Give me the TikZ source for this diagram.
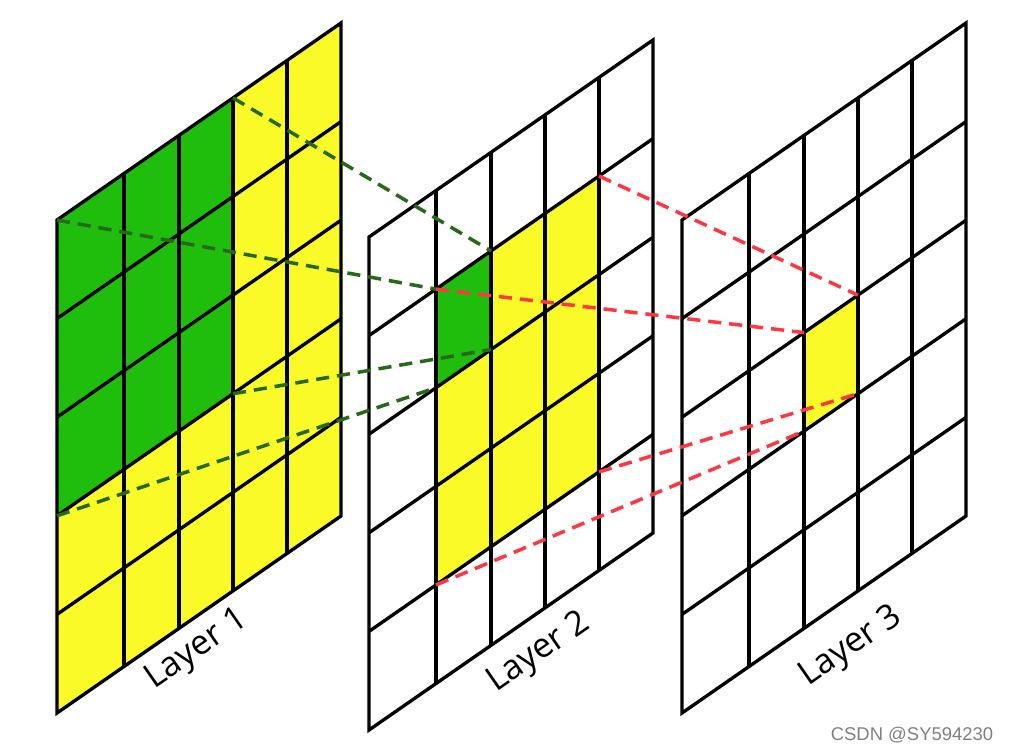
\documentclass[tikz,border=0pt]{standalone}
\usepackage{fontspec}
\setmainfont{Open Sans}
\newfontfamily\markfont{Liberation Sans}

\definecolor{cellgreen}{RGB}{32,190,12}
\definecolor{cellyellow}{RGB}{250,250,40}
\definecolor{linkgreen}{RGB}{40,105,25}
\definecolor{linkred}{RGB}{255,55,65}

\begin{document}
\begin{tikzpicture}[
  x=0.02cm, y=-0.02cm,
  gridline/.style = {line width=1.9pt, black},
  frame/.style = {line width=1.9pt, black, line join=miter},
  link/.style = {line width=2pt, dash pattern=on 7.5pt off 4.5pt},
  layerlabel/.style = {font=\fontsize{19.5}{22}\selectfont, rotate=34.75},
]
\useasboundingbox (0,0) rectangle (1011,751);

%% ── Layer 1: 5x5 input, 3x3 receptive field in green ───────────────────────
\begin{scope}[shift={(57,220)}, yslant=0.6937]
  \fill[cellyellow] (0,0) -- (284,0) -- (284,493) -- (0,493) -- cycle;
  \fill[cellgreen] (0,0) -- (176,0) -- (176,295.8) -- (0,295.8) -- cycle;
  \foreach \u in {67,122,176,230}
    \draw[gridline] (\u,0) -- (\u,493);
  \foreach \v in {98.6,197.2,295.8,394.4}
    \draw[gridline] (0,\v) -- (284,\v);
  \draw[frame] (0,0) -- (284,0) -- (284,493) -- (0,493) -- cycle;
  \coordinate (g1tl) at (0,0);
  \coordinate (g1tr) at (176,0);
  \coordinate (g1br) at (176,295.8);
  \coordinate (g1bl) at (0,295.8);
\end{scope}

%% ── Layer 2: 3x3 yellow block, top-left cell in green ──────────────────────
\begin{scope}[shift={(369,237)}, yslant=0.6937]
  \fill[cellyellow] (67,98.6) -- (230,98.6) -- (230,394.4) -- (67,394.4) -- cycle;
  \fill[cellgreen] (67,98.6) -- (122,98.6) -- (122,197.2) -- (67,197.2) -- cycle;
  \foreach \u in {67,122,176,230}
    \draw[gridline] (\u,0) -- (\u,493);
  \foreach \v in {98.6,197.2,295.8,394.4}
    \draw[gridline] (0,\v) -- (284,\v);
  \draw[frame] (0,0) -- (284,0) -- (284,493) -- (0,493) -- cycle;
  \coordinate (g2tl) at (67,98.6);
  \coordinate (g2tr) at (122,98.6);
  \coordinate (g2br) at (122,197.2);
  \coordinate (g2bl) at (67,197.2);
  \coordinate (y2tl) at (67,98.6);
  \coordinate (y2tr) at (230,98.6);
  \coordinate (y2br) at (230,394.4);
  \coordinate (y2bl) at (67,394.4);
\end{scope}

%% ── Layer 3: single yellow cell ────────────────────────────────────────────
\begin{scope}[shift={(682,220)}, yslant=0.6937]
  \fill[cellyellow] (122,197.2) -- (176,197.2) -- (176,295.8) -- (122,295.8) -- cycle;
  \foreach \u in {67,122,176,230}
    \draw[gridline] (\u,0) -- (\u,493);
  \foreach \v in {98.6,197.2,295.8,394.4}
    \draw[gridline] (0,\v) -- (284,\v);
  \draw[frame] (0,0) -- (284,0) -- (284,493) -- (0,493) -- cycle;
  \coordinate (y3tl) at (122,197.2);
  \coordinate (y3tr) at (176,197.2);
  \coordinate (y3br) at (176,295.8);
  \coordinate (y3bl) at (122,295.8);
\end{scope}

%% ── Receptive field links ──────────────────────────────────────────────────
\draw[link, linkgreen] (g1tr) -- (g2tr);
\draw[link, linkgreen] (g1tl) -- (g2tl);
\draw[link, linkgreen] (g1br) -- (g2br);
\draw[link, linkgreen] (g1bl) -- (g2bl);

\draw[link, linkred] (y2tl) -- (y3tl);
\draw[link, linkred] (y2tr) -- (y3tr);
\draw[link, linkred] (y2br) -- (y3br);
\draw[link, linkred] (y2bl) -- (y3bl);

%% ── Labels ─────────────────────────────────────────────────────────────────
\node[layerlabel] (lab1) at (197,650) {Layer 1};
\node[layerlabel] (lab2) at (539,653) {Layer 2};
\node[layerlabel] (lab3) at (851,647) {Layer 3};

\node[font=\markfont\fontsize{10.5}{12}\selectfont, text=black!50] (mark)
  at (912,735) {CSDN @SY594230};

\end{tikzpicture}
\end{document}
